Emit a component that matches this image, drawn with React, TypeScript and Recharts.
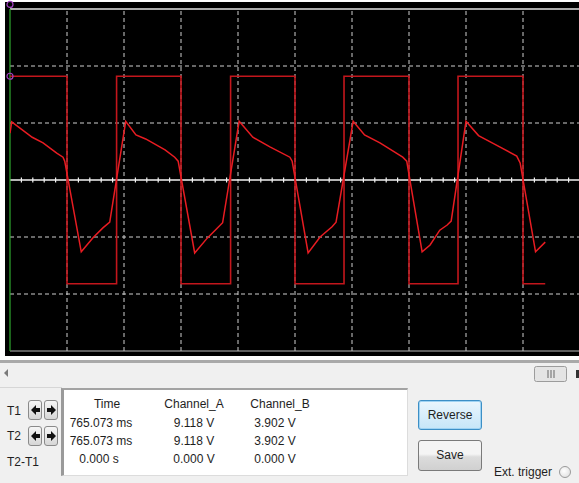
import { ComposedChart, Line, XAxis, YAxis, ReferenceLine, ReferenceDot } from 'recharts';

// scope screen units: time in divisions (0..10), voltage in divisions (-3..3)
const squareT = [0, 1, 1, 1.87, 1.87, 3, 3, 3.87, 3.87, 5, 5, 5.86, 5.86, 7, 7, 7.86, 7.86, 9, 9, 9.39];
const squareV = [1.82, 1.82, -1.82, -1.82, 1.82, 1.82, -1.82, -1.82, 1.82, 1.82, -1.82, -1.82, 1.82, 1.82, -1.82, -1.82, 1.82, 1.82, -1.82, -1.82];

const waveT = [
  0, 0.03, 0.39, 0.58, 0.82, 0.93, 0.96,
  1.25, 1.46, 1.63, 1.75, 2.03, 2.21, 2.38, 2.72, 2.89, 2.95,
  3.24, 3.46, 3.63, 3.73, 4.02, 4.26, 4.56, 4.91, 4.95,
  5.23, 5.44, 5.65, 5.72, 6.02, 6.22, 6.49, 6.89, 6.96,
  7.23, 7.37, 7.54, 7.67, 7.74, 8.0, 8.22, 8.5, 8.89, 8.95,
  9.22, 9.39,
];
const waveV = [
  0.82, 1.02, 0.75, 0.65, 0.47, 0.4, 0.33,
  -1.26, -1.01, -0.84, -0.74, 1.03, 0.79, 0.72, 0.53, 0.4, 0.33,
  -1.28, -1.02, -0.85, -0.75, 1.03, 0.75, 0.58, 0.4, 0.33,
  -1.28, -1.0, -0.82, -0.74, 1.03, 0.79, 0.65, 0.4, 0.33,
  -1.26, -1.14, -0.88, -0.79, -0.72, 1.03, 0.78, 0.63, 0.42, 0.3,
  -1.26, -1.09,
];

const gridX = [1, 2, 3, 4, 5, 6, 7, 8, 9];
const gridY = [-2, -1, 1, 2];
const minorTicks: number[] = [];
for (let i = 1; i < 50; i++) if (i % 5 !== 0) minorTicks.push(i / 5);

const headers = ['Time', 'Channel_A', 'Channel_B'];
const rowT1 = ['765.073 ms', '9.118 V', '3.902 V'];
const rowT2 = ['765.073 ms', '9.118 V', '3.902 V'];
const rowDiff = ['0.000 s', '0.000 V', '0.000 V'];

const squareData = squareT.map((t, i) => ({ t, v: squareV[i] }));
const waveData = waveT.map((t, i) => ({ t, v: waveV[i] }));

const font = '"Liberation Sans", Arial, sans-serif';

function Txt({ x, y, children, align = 'center', w = 80 }: { x: number; y: number; children: any; align?: string; w?: number }) {
  const left = align === 'center' ? x - w / 2 : x;
  return (
    <div
      style={{
        position: 'absolute',
        left,
        top: y - 8,
        width: w,
        height: 16,
        lineHeight: '16px',
        textAlign: align as any,
        fontSize: 12,
        color: '#1e1e1e',
        whiteSpace: 'nowrap',
      }}
    >
      {children}
    </div>
  );
}

function ArrowBtn({ x, y, dir }: { x: number; y: number; dir: 'l' | 'r' }) {
  const pts = dir === 'l' ? '3,8 8,3 8,6 12,6 12,10 8,10 8,13' : '12,8 7,3 7,6 3,6 3,10 7,10 7,13';
  return (
    <div
      style={{
        position: 'absolute',
        left: x,
        top: y,
        width: 14,
        height: 20,
        boxSizing: 'border-box',
        border: '1px solid #8a8a8a',
        borderRadius: 3,
        background: 'linear-gradient(#f6f6f6, #d6d6d6)',
      }}
    >
      <svg width={14} height={18} style={{ position: 'absolute', left: -1, top: 1 }}>
        <polygon points={pts} fill="#111" />
      </svg>
    </div>
  );
}

export default function App() {
  return (
    <div
      style={{
        position: 'absolute',
        left: 0,
        top: 0,
        width: 579,
        height: 483,
        overflow: 'hidden',
        background: '#f0f0f0',
        fontFamily: font,
      }}
    >
      {/* scope screen */}
      <div style={{ position: 'absolute', left: 0, top: 0, width: 579, height: 360, background: '#fff' }} />
      <div style={{ position: 'absolute', left: 5, top: 2, width: 574, height: 354, background: '#000' }} />
      <div style={{ position: 'absolute', left: 0, top: 360, width: 579, height: 3, background: '#a9a9a9' }} />
      <div style={{ position: 'absolute', left: 0, top: 0 }}>
        <ComposedChart width={600} height={360} margin={{ top: 9, right: 20, bottom: 9, left: 10 }}>
          <XAxis dataKey="t" type="number" domain={[0, 10]} hide allowDataOverflow />
          <YAxis type="number" domain={[-3, 3]} hide allowDataOverflow />
          {gridX.map((x) => (
            <ReferenceLine key={'gx' + x} x={x} stroke="#cfcfcf" strokeDasharray="4 3" />
          ))}
          {gridY.map((y) => (
            <ReferenceLine key={'gy' + y} y={y} stroke="#cfcfcf" strokeDasharray="4 3" />
          ))}
          <ReferenceLine y={3} stroke="#e6e6e6" strokeWidth={1.5} />
          <ReferenceLine y={-3} stroke="#bdbdbd" strokeWidth={1} />
          <ReferenceLine y={0} stroke="#f2f2f2" strokeWidth={1.5} />
          {minorTicks.map((t) => (
            <ReferenceLine
              key={'mt' + t}
              segment={[
                { x: t, y: -0.045 },
                { x: t, y: 0.045 },
              ]}
              stroke="#f2f2f2"
              strokeWidth={1.2}
            />
          ))}
          <ReferenceLine x={0} stroke="#2fa82f" strokeWidth={1.2} />
          <Line
            data={squareData}
            dataKey="v"
            type="linear"
            stroke="#c3161c"
            strokeWidth={1.6}
            dot={false}
            isAnimationActive={false}
          />
          <Line
            data={waveData}
            dataKey="v"
            type="linear"
            stroke="#e81c22"
            strokeWidth={1.5}
            dot={false}
            isAnimationActive={false}
          />
          <ReferenceDot x={0} y={1.82} r={3} fill="none" stroke="#a040c0" strokeWidth={1.2} ifOverflow="visible" />
          <ReferenceDot x={0} y={3.08} r={3} fill="none" stroke="#a040c0" strokeWidth={1.2} ifOverflow="visible" />
        </ComposedChart>
      </div>

      {/* scrollbar */}
      <svg width={579} height={24} style={{ position: 'absolute', left: 0, top: 363 }}>
        <polygon points="4,10 8,6 8,14" fill="#7a7a7a" />
        <rect x={534.5} y={3.5} width={32} height={15} rx={2} fill="#e4e4e4" stroke="#9c9c9c" />
        <line x1={548} y1={7} x2={548} y2={15} stroke="#666" />
        <line x1={551} y1={7} x2={551} y2={15} stroke="#666" />
        <line x1={554} y1={7} x2={554} y2={15} stroke="#666" />
        <rect x={576} y={7} width={3} height={8} fill="#333" />
      </svg>
      <div style={{ position: 'absolute', left: 0, top: 387, width: 62, height: 1, background: '#d6d6d6' }} />

      {/* cursor panel */}
      <Txt x={7} y={411} align="left" w={20}>T1</Txt>
      <Txt x={7} y={436} align="left" w={20}>T2</Txt>
      <Txt x={7} y={462} align="left" w={40}>T2-T1</Txt>
      <ArrowBtn x={28} y={400} dir="l" />
      <ArrowBtn x={44} y={400} dir="r" />
      <ArrowBtn x={28} y={426} dir="l" />
      <ArrowBtn x={44} y={426} dir="r" />

      <div
        style={{
          position: 'absolute',
          left: 61,
          top: 388,
          width: 347,
          height: 88,
          background: '#fff',
          boxSizing: 'border-box',
          borderLeft: '3px solid #9a9a9a',
          borderTop: '2px solid #a3a3a3',
          borderRight: '1px solid #dcdcdc',
          borderBottom: '1px solid #dcdcdc',
        }}
      />
      <Txt x={107} y={404}>{headers[0]}</Txt>
      <Txt x={194} y={404}>{headers[1]}</Txt>
      <Txt x={280} y={404}>{headers[2]}</Txt>
      <Txt x={101} y={423}>{rowT1[0]}</Txt>
      <Txt x={194} y={423}>{rowT1[1]}</Txt>
      <Txt x={275} y={423}>{rowT1[2]}</Txt>
      <Txt x={101} y={441}>{rowT2[0]}</Txt>
      <Txt x={194} y={441}>{rowT2[1]}</Txt>
      <Txt x={275} y={441}>{rowT2[2]}</Txt>
      <Txt x={99} y={459}>{rowDiff[0]}</Txt>
      <Txt x={194} y={459}>{rowDiff[1]}</Txt>
      <Txt x={275} y={459}>{rowDiff[2]}</Txt>

      {/* buttons */}
      <div
        style={{
          position: 'absolute',
          left: 418,
          top: 400,
          width: 64,
          height: 30,
          boxSizing: 'border-box',
          border: '1px solid #3c8fc6',
          borderRadius: 3,
          background: 'linear-gradient(#eaf6fd, #c6e6f8)',
          boxShadow: 'inset 0 0 0 1px #9fd3f3',
          textAlign: 'center',
          lineHeight: '28px',
          fontSize: 12,
          color: '#1e1e1e',
        }}
      >
        Reverse
      </div>
      <div
        style={{
          position: 'absolute',
          left: 418,
          top: 440,
          width: 64,
          height: 31,
          boxSizing: 'border-box',
          border: '1px solid #7a7a7a',
          borderRadius: 3,
          background: 'linear-gradient(#f4f4f4 45%, #dcdcdc 55%, #d0d0d0)',
          textAlign: 'center',
          lineHeight: '29px',
          fontSize: 12,
          color: '#1e1e1e',
        }}
      >
        Save
      </div>
      <Txt x={494} y={472} align="left" w={70}>Ext. trigger</Txt>
      <div
        style={{
          position: 'absolute',
          left: 559,
          top: 466,
          width: 12,
          height: 12,
          boxSizing: 'border-box',
          borderRadius: '50%',
          border: '1px solid #9a9a9a',
          background: 'radial-gradient(circle at 40% 40%, #ffffff, #dadada)',
        }}
      />
    </div>
  );
}
